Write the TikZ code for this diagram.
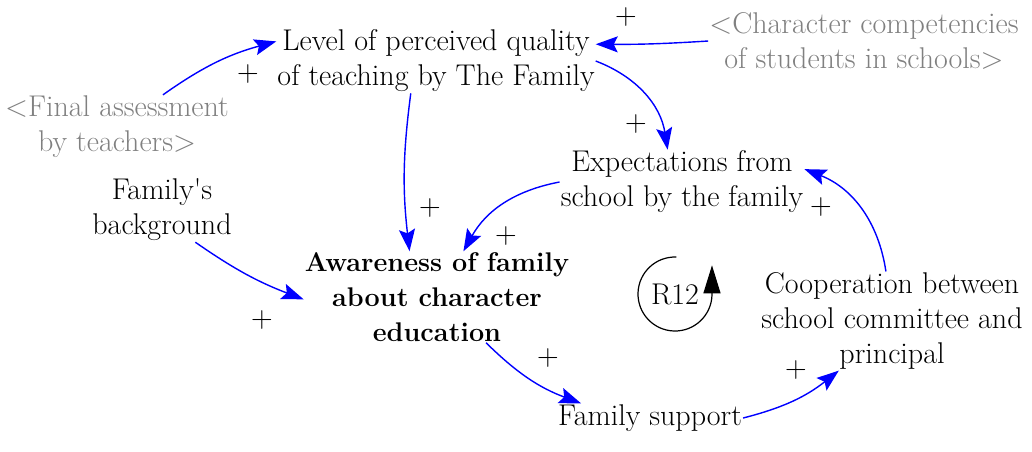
\documentclass[tikz,border=0pt]{standalone}
\usepackage{fontspec}
\usetikzlibrary{arrows.meta}
\definecolor{linkblue}{rgb}{0,0,1}
\definecolor{shadowgray}{gray}{0.5}
\begin{document}
\begin{tikzpicture}[x=1pt,y=-1pt,
  var/.style={align=center, inner sep=1pt, font=\fontsize{30}{35}\selectfont},
  shadow/.style={var, text=shadowgray},
  link/.style={draw=linkblue, line width=1.4pt, -{Stealth[length=22pt,width=16pt,inset=4pt]}},
  pol/.style={inner sep=0pt, font=\fontsize{30}{35}\selectfont}]
\useasboundingbox (0,0) rectangle (1032,451);
% variables
\node[var] (lvl) at (436,61) {Level of perceived quality\\of teaching by The Family};
\node[shadow] (chr) at (864,41) {<Character competencies\\of students in schools>};
\node[shadow] (fa) at (117,127) {<Final assessment\\by teachers>};
\node[var] (exp) at (682,182) {Expectations from\\school by the family};
\node[var] (bg) at (162,210) {Family\textquotesingle s\\background};
\node[var, font=\fontsize{27}{35}\selectfont\bfseries] (aw) at (437,297) {Awareness of family\\about character\\education};
\node[var] (coop) at (892,321) {Cooperation between\\school committee and\\principal};
\node[var] (fs) at (650,418) {Family support};
% links
\draw[link] (fa.35) to[bend left=10] (lvl.173);
\draw[link] (chr.west) to[bend left=2] (lvl.6);
\draw[link] (lvl.0) to[bend left=30] (exp.114);
\draw[link] (lvl.-128) to[bend right=7] (aw.121);
\draw[link] (exp.180) to[bend right=25] (aw.60);
\draw[link] (bg.-44) to[bend right=7] (aw.181);
\draw[link] (aw.-43) to[bend right=12] (fs.168);
\draw[link] (fs.east) to[bend right=12] (coop.-137);
\draw[link] (coop.97) to[bend right=30] (exp.6);
% polarities
\foreach \px/\py in {248/74, 626/17, 636/124, 430/208, 506/236, 262/320, 548/358, 796/370, 821/207}
  \node[pol] at (\px,\py) {+};
% loop
\node[pol] (r12) at (675,294) {R12};
\draw[line width=1.2pt, -{Triangle[length=28pt,width=17pt]}] (r12.center) ++(88:37pt) arc[start angle=88, end angle=358, radius=37pt] -- ++(0,-30);
\end{tikzpicture}
\end{document}
